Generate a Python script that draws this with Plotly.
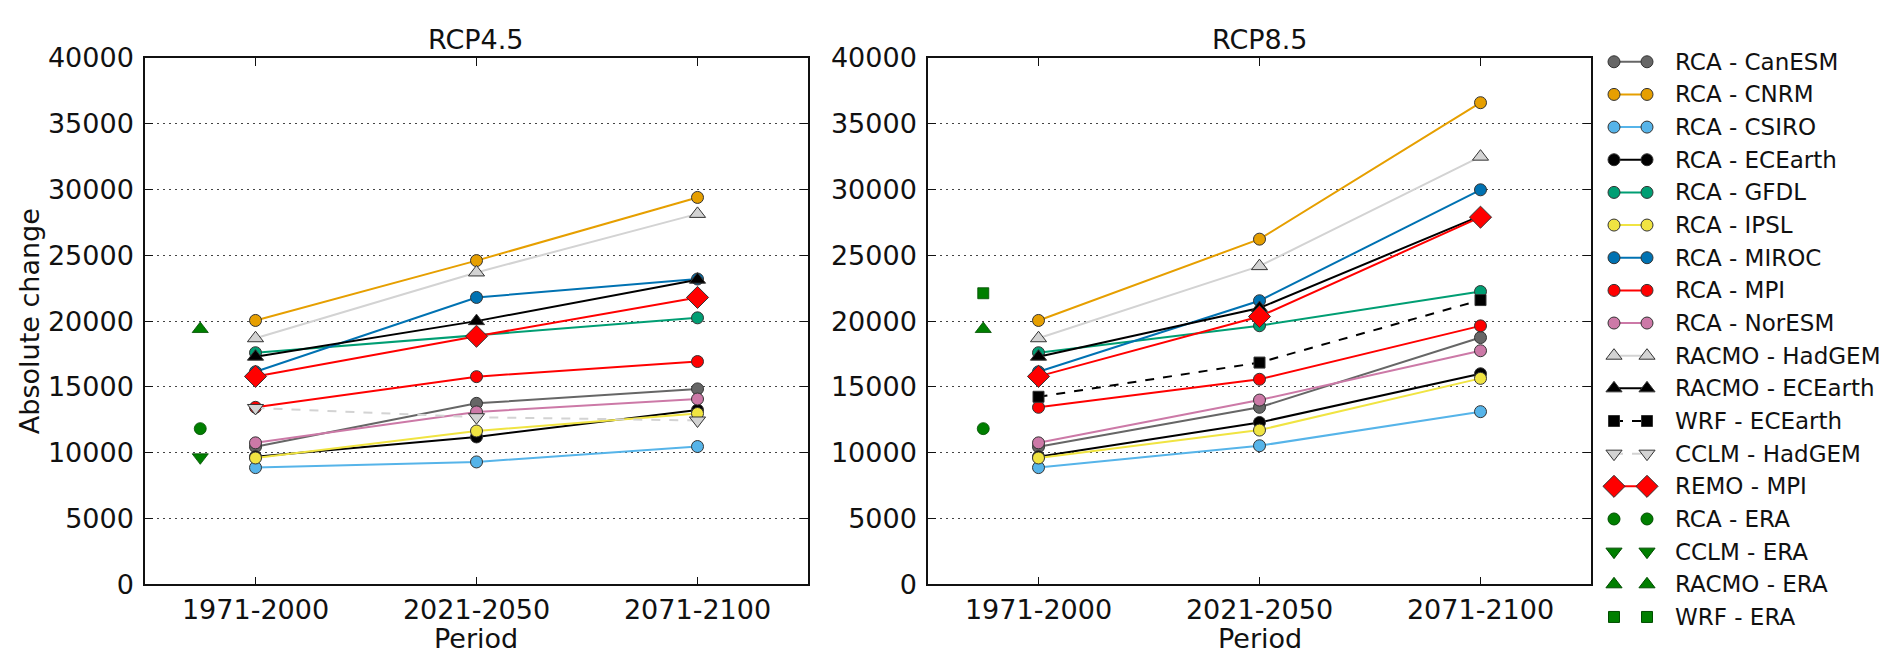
import plotly.graph_objects as go

# ---------------- data ----------------
PERIODS = ["1971-2000", "2021-2050", "2071-2100"]
SCENARIOS = ["RCP4.5", "RCP8.5"]
Y_TICKS = [0, 5000, 10000, 15000, 20000, 25000, 30000, 35000, 40000]

# values per model: [1971-2000, 2021-2050, 2071-2100]
RCA_CANESM_45 = [10450, 13750, 14850]
RCA_CANESM_85 = [10450, 13450, 18750]
RCA_CNRM_45 = [20050, 24600, 29400]
RCA_CNRM_85 = [20050, 26230, 36600]
RCA_CSIRO_45 = [8870, 9300, 10470]
RCA_CSIRO_85 = [8870, 10530, 13120]
RCA_ECEARTH_45 = [9700, 11200, 13250]
RCA_ECEARTH_85 = [9700, 12300, 16000]
RCA_GFDL_45 = [17600, 18900, 20250]
RCA_GFDL_85 = [17600, 19650, 22250]
RCA_IPSL_45 = [9600, 11650, 12980]
RCA_IPSL_85 = [9600, 11720, 15650]
RCA_MIROC_45 = [16150, 21800, 23200]
RCA_MIROC_85 = [16150, 21550, 29980]
RCA_MPI_45 = [13450, 15780, 16930]
RCA_MPI_85 = [13450, 15580, 19640]
RCA_NORESM_45 = [10750, 13100, 14080]
RCA_NORESM_85 = [10750, 14000, 17750]
RACMO_HADGEM_45 = [18700, 23700, 28150]
RACMO_HADGEM_85 = [18700, 24180, 32500]
RACMO_ECEARTH_45 = [17300, 20000, 23150]
RACMO_ECEARTH_85 = [17300, 21000, 28000]
WRF_ECEARTH_45 = None
WRF_ECEARTH_85 = [14250, 16850, 21600]
CCLM_HADGEM_45 = [13400, 12700, 12450]
CCLM_HADGEM_85 = None
REMO_MPI_45 = [15800, 18850, 21800]
REMO_MPI_85 = [15800, 20350, 27900]
# ERA-driven reference runs (single value, shown left of 1971-2000)
RCA_ERA_45 = [11830]
RCA_ERA_85 = [11830]
CCLM_ERA_45 = [9650]
CCLM_ERA_85 = None
RACMO_ERA_45 = [19400]
RACMO_ERA_85 = [19400]
WRF_ERA_45 = None
WRF_ERA_85 = [22120]

SERIES = [
    # name, rcp45, rcp85, color, symbol, size, dash, is_era
    ("RCA - CanESM", RCA_CANESM_45, RCA_CANESM_85, "#666666", "circle", 12, "solid", False),
    ("RCA - CNRM", RCA_CNRM_45, RCA_CNRM_85, "#E69F00", "circle", 12, "solid", False),
    ("RCA - CSIRO", RCA_CSIRO_45, RCA_CSIRO_85, "#56B4E9", "circle", 12, "solid", False),
    ("RCA - ECEarth", RCA_ECEARTH_45, RCA_ECEARTH_85, "#000000", "circle", 12, "solid", False),
    ("RCA - GFDL", RCA_GFDL_45, RCA_GFDL_85, "#009E73", "circle", 12, "solid", False),
    ("RCA - IPSL", RCA_IPSL_45, RCA_IPSL_85, "#F0E442", "circle", 12, "solid", False),
    ("RCA - MIROC", RCA_MIROC_45, RCA_MIROC_85, "#0072B2", "circle", 12, "solid", False),
    ("RCA - MPI", RCA_MPI_45, RCA_MPI_85, "#FF0000", "circle", 12, "solid", False),
    ("RCA - NorESM", RCA_NORESM_45, RCA_NORESM_85, "#CC79A7", "circle", 12, "solid", False),
    ("RACMO - HadGEM", RACMO_HADGEM_45, RACMO_HADGEM_85, "#D3D3D3", "triangle-up", 14, "solid", False),
    ("RACMO - ECEarth", RACMO_ECEARTH_45, RACMO_ECEARTH_85, "#000000", "triangle-up", 14, "solid", False),
    ("WRF - ECEarth", WRF_ECEARTH_45, WRF_ECEARTH_85, "#000000", "square", 11, "dash", False),
    ("CCLM - HadGEM", CCLM_HADGEM_45, CCLM_HADGEM_85, "#D3D3D3", "triangle-down", 14, "dash", False),
    ("REMO - MPI", REMO_MPI_45, REMO_MPI_85, "#FF0000", "diamond", 17, "solid", False),
    ("RCA - ERA", RCA_ERA_45, RCA_ERA_85, "#007F00", "circle", 12, None, True),
    ("CCLM - ERA", CCLM_ERA_45, CCLM_ERA_85, "#007F00", "triangle-down", 14, None, True),
    ("RACMO - ERA", RACMO_ERA_45, RACMO_ERA_85, "#007F00", "triangle-up", 14, None, True),
    ("WRF - ERA", WRF_ERA_45, WRF_ERA_85, "#007F00", "square", 11, None, True),
]

# ---------------- layout constants ----------------
W, H = 1887, 667
FONT = "DejaVu Sans"
PANEL_X = [(145, 808), (928, 1591)]
PANEL_TOP, PANEL_BOT = 44, 596
ERA_X = -0.25
LEG_X0, LEG_X1, LEG_TXT = 1614, 1647, 1673
LEG_TOP, LEG_STEP = 48, 34.25


def px_x(v):
    return v / W


def px_y(v):
    return 1 - v / H


fig = go.Figure()

for p, scen in enumerate(SCENARIOS):
    xa = "x" if p == 0 else "x2"
    ya = "y" if p == 0 else "y2"
    for name, v45, v85, color, sym, size, dash, era in SERIES:
        vals = v45 if p == 0 else v85
        if vals is None:
            continue
        edge = "#004d00" if era else "#333333"
        if era:
            fig.add_trace(go.Scatter(
                x=[ERA_X] * len(vals), y=vals, mode="markers", xaxis=xa, yaxis=ya,
                marker=dict(symbol=sym, size=size, color=color, line=dict(color=edge, width=0.8)),
                showlegend=False, name=name))
        else:
            fig.add_trace(go.Scatter(
                x=list(range(len(PERIODS))), y=vals, mode="lines+markers", xaxis=xa, yaxis=ya,
                line=dict(color=color, width=2, dash=dash),
                marker=dict(symbol=sym, size=size, color=color, line=dict(color=edge, width=1)),
                showlegend=False, name=name))

# custom matplotlib-style legend (two markers joined by a line)
for i, (name, v45, v85, color, sym, size, dash, era) in enumerate(SERIES):
    yy = LEG_TOP + i * LEG_STEP
    edge = "#004d00" if era else "#333333"
    fig.add_trace(go.Scatter(
        x=[LEG_X0, LEG_X1], y=[yy, yy], mode="markers" if era else "lines+markers",
        xaxis="x3", yaxis="y3",
        line=dict(color=color, width=2, dash="dash" if dash == "dash" else "solid"),
        marker=dict(symbol=sym, size=size, color=color, line=dict(color=edge, width=1)),
        showlegend=False, hoverinfo="skip"))
    fig.add_annotation(x=LEG_TXT, y=yy, xref="x3", yref="y3", text=name, showarrow=False,
                       xanchor="left", yanchor="middle", font=dict(family=FONT, size=23, color="#111111"))

axis_common = dict(
    showline=True, linecolor="#111111", linewidth=1.5, mirror="ticks",
    ticks="inside", ticklen=8, tickwidth=1, tickcolor="#111111",
    tickfont=dict(family=FONT, size=27, color="#111111"),
)

for p in range(2):
    x0, x1 = PANEL_X[p]
    sx = "" if p == 0 else "2"
    fig.update_layout(**{
        "xaxis" + sx: dict(
            domain=[px_x(x0), px_x(x1)], range=[-0.5, 2.5],
            tickvals=list(range(len(PERIODS))), ticktext=PERIODS,
            showgrid=False, zeroline=False, anchor="y" + sx, ticklabelstandoff=1, **axis_common),
        "yaxis" + sx: dict(
            domain=[px_y(PANEL_BOT), px_y(PANEL_TOP)], range=[0, 40000],
            tickvals=Y_TICKS, ticktext=[str(t) for t in Y_TICKS],
            showgrid=True, gridcolor="#444444", gridwidth=1, griddash="1.5px,4.5px",
            zeroline=False, anchor="x" + sx, ticklabelstandoff=4, **axis_common),
    })
    cx = (x0 + x1) / 2
    fig.add_annotation(x=px_x(cx), y=px_y(25), xref="paper", yref="paper", text=SCENARIOS[p],
                       showarrow=False, xanchor="center", yanchor="middle",
                       font=dict(family=FONT, size=27, color="#111111"))
    fig.add_annotation(x=px_x(cx), y=px_y(653), xref="paper", yref="paper", text="Period",
                       showarrow=False, xanchor="center", yanchor="middle",
                       font=dict(family=FONT, size=27, color="#111111"))

fig.add_annotation(x=px_x(29), y=px_y((PANEL_TOP + PANEL_BOT) / 2), xref="paper", yref="paper",
                   text="Absolute change", textangle=-90, showarrow=False,
                   xanchor="center", yanchor="middle", font=dict(family=FONT, size=27, color="#111111"))

fig.update_layout(
    xaxis3=dict(domain=[1596 / W, 1], range=[1596, W], visible=False, anchor="y3"),
    yaxis3=dict(domain=[0, 1], range=[H, 0], visible=False, anchor="x3"),
    width=W, height=H, margin=dict(l=0, r=0, t=0, b=0),
    paper_bgcolor="white", plot_bgcolor="white", showlegend=False,
    font=dict(family=FONT, color="#111111"),
)

fig.write_html("out.html", config={"displayModeBar": False},
               post_script="document.body.style.margin='0';document.body.style.overflow='hidden';")
